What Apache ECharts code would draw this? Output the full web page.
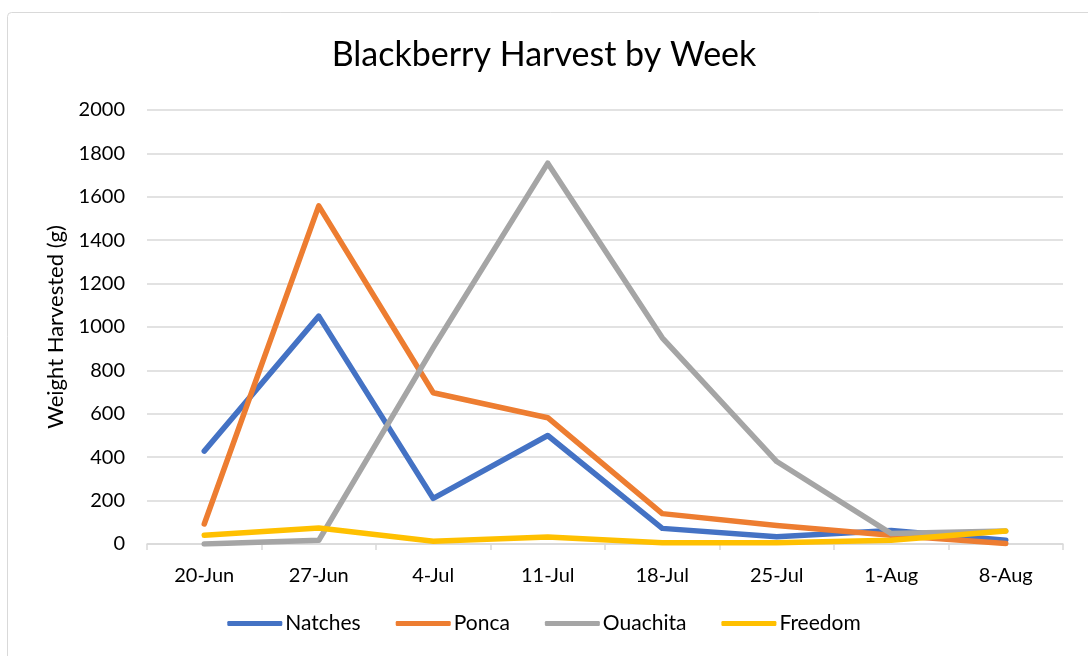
<!DOCTYPE html>
<html>
<head>
<meta charset="utf-8">
<script src="https://cdn.jsdelivr.net/npm/echarts@6/dist/echarts.min.js"></script>
<style>
html,body{margin:0;padding:0;background:#fff;}
#c{width:1088px;height:656px;}
</style>
</head>
<body>
<div id="c"></div>
<script>
const categories = ['20-Jun','27-Jun','4-Jul','11-Jul','18-Jul','25-Jul','1-Aug','8-Aug'];
const natches = [428, 1050, 210, 500, 72, 33, 62, 17];
const ponca = [92, 1558, 697, 582, 140, 85, 40, 2];
const ouachita = [0, 17, 905, 1755, 950, 380, 48, 60];
const freedom = [40, 74, 13, 32, 6, 6, 17, 60];
const seriesNames = ['Natches','Ponca','Ouachita','Freedom'];
const colors = ['#4472C4','#ED7D31','#A5A5A5','#FFC000'];
const seriesData = [natches, ponca, ouachita, freedom];
const yTicks = {min:0, max:2000, interval:200};

const font = 'Lato, "Open Sans", sans-serif';
const chart = echarts.init(document.getElementById('c'), null, {renderer:'canvas'});
chart.setOption({
  animation:false,
  backgroundColor:'#fff',
  graphic:[{type:'rect', shape:{x:7.5,y:12.5,width:1200,height:800, r:4}, style:{fill:'none', stroke:'#d9d9d9', lineWidth:1}, silent:true, z:-10}],
  title:{text:'Blackberry Harvest by Week', left:'center', top:33, textStyle:{fontFamily:font, fontWeight:'normal', fontSize:34, color:'#000'}},
  legend:{data:seriesNames, bottom:17, left:'center', icon:'roundRect', itemWidth:55, itemHeight:5, itemGap:35,
    textStyle:{fontFamily:font, fontSize:21, color:'#000', padding:[0,0,0,-2]}},
  grid:{left:147, right:25, top:110, bottom:112, containLabel:false},
  xAxis:{type:'category', data:categories, boundaryGap:true,
    axisLine:{lineStyle:{color:'#d9d9d9', width:1.5}},
    axisTick:{show:true, alignWithLabel:false, length:6, lineStyle:{color:'#d9d9d9', width:1.5}},
    axisLabel:{fontFamily:font, fontSize:20, color:'#000', margin:22}},
  yAxis:{type:'value', min:yTicks.min, max:yTicks.max, interval:yTicks.interval,
    name:'Weight Harvested (g)', nameLocation:'middle', nameGap:80, nameRotate:90,
    nameTextStyle:{fontFamily:font, fontSize:22, color:'#000'},
    axisLine:{show:false}, axisTick:{show:false},
    splitLine:{lineStyle:{color:'#d9d9d9', width:1.5}},
    axisLabel:{fontFamily:font, fontSize:20, color:'#000', margin:22, formatter:(v)=>String(v)}},
  series: seriesData.map((d,i)=>({name:seriesNames[i], type:'line', data:d, symbol:'none',
    lineStyle:{width:5.5, color:colors[i], cap:'round', join:'round'}, itemStyle:{color:colors[i]}}))
});
</script>
</body>
</html>
